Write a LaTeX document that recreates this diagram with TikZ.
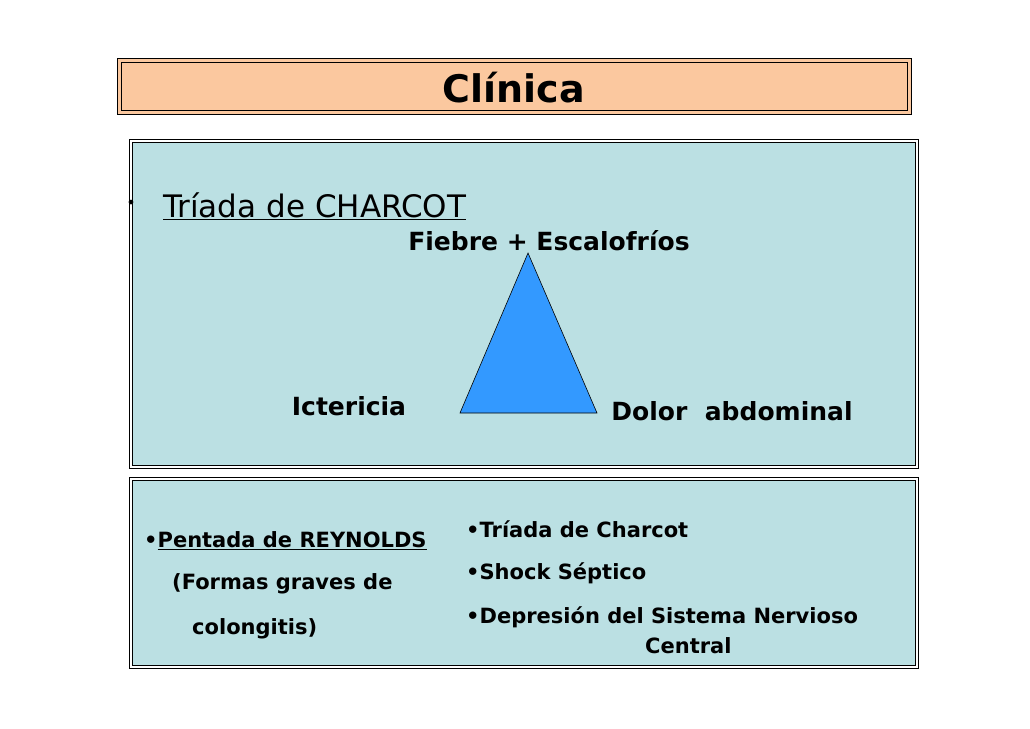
\documentclass[tikz,border=0pt]{standalone}
\usepackage{fontspec}
\setmainfont{DejaVu Sans}
\usetikzlibrary{calc}
\definecolor{boxblue}{HTML}{BBE0E3}
\definecolor{titleorange}{HTML}{FBC89F}
\definecolor{triblue}{HTML}{3399FF}
\begin{document}
\begin{tikzpicture}[x=1pt,y=-1pt,
    panel/.style={draw, double, double distance=2pt, line width=0.8pt, fill=boxblue},
    lbl/.style={font=\fontsize{25}{29}\selectfont\bfseries, inner sep=0pt},
    item/.style={font=\fontsize{21}{25}\selectfont\bfseries, inner sep=0pt, anchor=west}]
  \useasboundingbox (0,0) rectangle (1030,728);

  % title
  \draw[fill=titleorange, line width=0.8pt] (117,58) rectangle (911,114);
  \draw[line width=0.5pt] (121,62) rectangle (907,110);
  \node[font=\fontsize{38}{44}\selectfont\bfseries] (title) at (514,88) {Clínica};

  % upper panel
  \draw[panel] (131,141) rectangle (917,467);
  \node[anchor=west, font=\fontsize{31}{36}\selectfont, inner sep=0pt] (charcot) at (163,206) {\underline{Tríada de CHARCOT}};
  \node[anchor=east, font=\fontsize{16}{20}\selectfont, inner sep=0pt] at (136,204) {•};
  \coordinate (apex) at (528,253);
  \coordinate (bl) at (460,413);
  \coordinate (br) at (597,413);
  \draw[fill=triblue, line width=0.6pt] (apex) -- (bl) -- (br) -- cycle;
  \node[lbl] (fiebre) at (549,241) {Fiebre + Escalofríos};
  \node[lbl] (icter) at (349,406) {Ictericia};
  \node[lbl] (dolor) at (732,411) {Dolor\ \ abdominal};

  % lower panel
  \draw[panel] (131,479) rectangle (917,667);
  \node[item] (penta) at (144,541) {•\underline{Pentada de REYNOLDS}};
  \node[item] (formas) at (172,584) {(Formas graves de};
  \node[item] (colong) at (192,629) {colongitis)};
  \node[item] (i1) at (466,529) {•Tríada de Charcot};
  \node[item] (i2) at (466,573) {•Shock Séptico};
  \node[item] (i3) at (466,617) {•Depresión del Sistema Nervioso};
  \node[item] (i4) at (645,646) {Central};
\end{tikzpicture}
\end{document}
